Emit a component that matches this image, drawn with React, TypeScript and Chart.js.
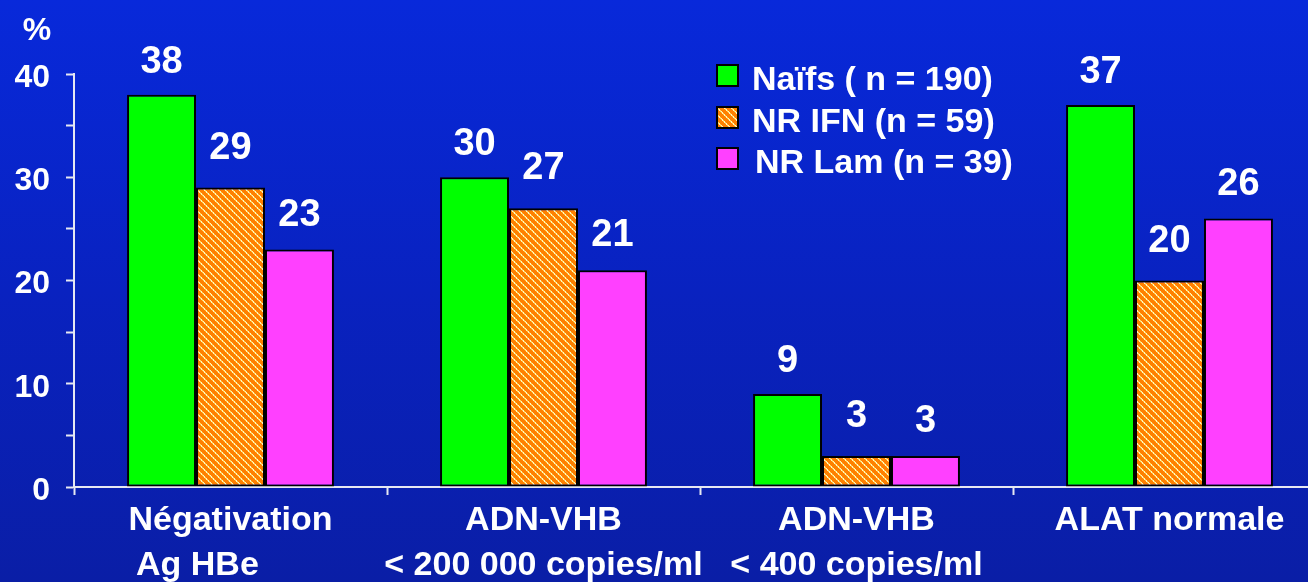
import { useEffect, useRef } from "react";
import { Chart, registerables } from "chart.js";

Chart.register(...registerables);

// Response rates (%) by criterion and patient group
const categories: (string | string[])[] = [
  ["Négativation", "Ag HBe       "],
  ["ADN-VHB", "< 200 000 copies/ml"],
  ["ADN-VHB", "< 400 copies/ml"],
  "ALAT normale",
];
const seriesNames = ["Naïfs ( n = 190)", "NR IFN (n = 59)", "NR Lam (n = 39)"];
const naifs = [38, 30, 9, 37];
const nrIfn = [29, 27, 3, 20];
const nrLam = [23, 21, 3, 26];
const yTickLabels = [0, 10, 20, 30, 40];
const unitLabel = "%";

const FONT = "'Liberation Sans', Arial, Helvetica, sans-serif";
const CANVAS_W = 1340;
const CANVAS_H = 582;
const AXIS_COLOR = "#e6e8f2";

// Orange fill with dotted pale-yellow diagonal stripes
function makeHatch(): CanvasPattern | string {
  const tile = document.createElement("canvas");
  const n = 7;
  tile.width = n;
  tile.height = n;
  const c = tile.getContext("2d");
  if (!c) return "#ff8000";
  c.fillStyle = "#ff8000";
  c.fillRect(0, 0, n, n);
  for (let y = 0; y < n; y++) {
    const a = y % 2 === 0 ? "#ffd960" : "#fff4c0";
    const b = y % 2 === 0 ? "#fff4c0" : "#ffd960";
    c.fillStyle = a;
    c.fillRect(y % n, y, 1, 1);
    c.fillStyle = b;
    c.fillRect((y + 1) % n, y, 1, 1);
  }
  const ctx = document.createElement("canvas").getContext("2d");
  return (ctx && ctx.createPattern(tile, "repeat")) || "#ff8000";
}

// Value labels above each bar (lift in px per series)
const labelLift = [22, 29, 24];
const valueLabels = {
  id: "valueLabels",
  afterDatasetsDraw(chart: Chart) {
    const ctx = chart.ctx;
    ctx.save();
    ctx.fillStyle = "#ffffff";
    ctx.font = `bold 38px ${FONT}`;
    ctx.textAlign = "center";
    ctx.textBaseline = "alphabetic";
    chart.data.datasets.forEach((ds, di) => {
      const meta = chart.getDatasetMeta(di);
      meta.data.forEach((el: any, i: number) => {
        const v = ds.data[i] as number;
        ctx.fillText(String(v), el.x, el.y - labelLift[di]);
      });
    });
    ctx.restore();
  },
};

// Legend box in the upper middle, plus the unit label above the y axis
const sideLegend = {
  id: "sideLegend",
  afterDraw(chart: Chart) {
    const ctx = chart.ctx;
    ctx.save();
    ctx.font = `bold 34px ${FONT}`;
    ctx.fillStyle = "#ffffff";
    ctx.textAlign = "left";
    ctx.textBaseline = "alphabetic";
    const boxX = 717;
    const rowTops = [65, 107, 148];
    const textX = [752, 752, 755];
    chart.data.datasets.forEach((ds, i) => {
      const top = rowTops[i];
      ctx.fillStyle = ds.backgroundColor as any;
      ctx.fillRect(boxX, top, 21, 21);
      ctx.lineWidth = 2;
      ctx.strokeStyle = "#000000";
      ctx.strokeRect(boxX, top, 21, 21);
      ctx.fillStyle = "#ffffff";
      ctx.fillText(String(ds.label), textX[i], top + 25);
    });
    ctx.font = `bold 32px ${FONT}`;
    ctx.textAlign = "center";
    ctx.fillText(unitLabel, 37, 40);
    ctx.restore();
  },
};

export default function App() {
  const ref = useRef<HTMLCanvasElement>(null);

  useEffect(() => {
    if (!ref.current) return;
    const hatch = makeHatch();
    const chart = new Chart(ref.current, {
      type: "bar",
      data: {
        labels: categories,
        datasets: [
          { label: seriesNames[0], data: naifs, backgroundColor: "#00ff00" },
          { label: seriesNames[1], data: nrIfn, backgroundColor: hatch as any },
          { label: seriesNames[2], data: nrLam, backgroundColor: "#ff40ff" },
        ].map((d) => ({
          ...d,
          borderColor: "#000000",
          borderWidth: 2,
          borderSkipped: false,
          categoryPercentage: 0.661,
          barPercentage: 1,
        })),
      },
      options: {
        responsive: false,
        animation: false,
        devicePixelRatio: 1,
        layout: { padding: { top: 74, right: 14, left: 0, bottom: 0 } },
        plugins: {
          legend: { display: false },
          tooltip: { enabled: false },
        },
        scales: {
          x: {
            offset: true,
            grid: {
              display: true,
              offset: true,
              drawOnChartArea: false,
              drawTicks: true,
              tickLength: 8,
              tickColor: AXIS_COLOR,
              tickWidth: 2,
            },
            border: { display: true, color: AXIS_COLOR, width: 2 },
            ticks: {
              color: "#ffffff",
              font: { family: FONT, size: 34, weight: "bold", lineHeight: 1.32 },
              padding: 3,
              maxRotation: 0,
              minRotation: 0,
              autoSkip: false,
            },
            afterFit: (s: any) => {
              s.height = 95;
            },
          },
          y: {
            min: 0,
            max: 40,
            grid: {
              display: true,
              drawOnChartArea: false,
              drawTicks: true,
              tickLength: 8,
              tickColor: AXIS_COLOR,
              tickWidth: 2,
            },
            border: { display: true, color: AXIS_COLOR, width: 2 },
            ticks: {
              stepSize: 5,
              color: "#ffffff",
              font: { family: FONT, size: 32, weight: "bold" },
              padding: 16,
              labelOffset: 4,
              callback: (v: any) => (yTickLabels.includes(Number(v)) ? String(v) : ""),
            },
            afterFit: (s: any) => {
              s.width = 74;
            },
          },
        },
      },
      plugins: [valueLabels, sideLegend],
    });
    return () => chart.destroy();
  }, []);

  return (
    <div
      style={{
        position: "fixed",
        left: 0,
        top: 0,
        width: 1308,
        height: 582,
        overflow: "hidden",
        background: "linear-gradient(to bottom, #0829da 0%, #0922c0 50%, #0a1ea6 100%)",
      }}
    >
      <canvas
        ref={ref}
        width={CANVAS_W}
        height={CANVAS_H}
        style={{ display: "block", width: CANVAS_W, height: CANVAS_H }}
      />
    </div>
  );
}
